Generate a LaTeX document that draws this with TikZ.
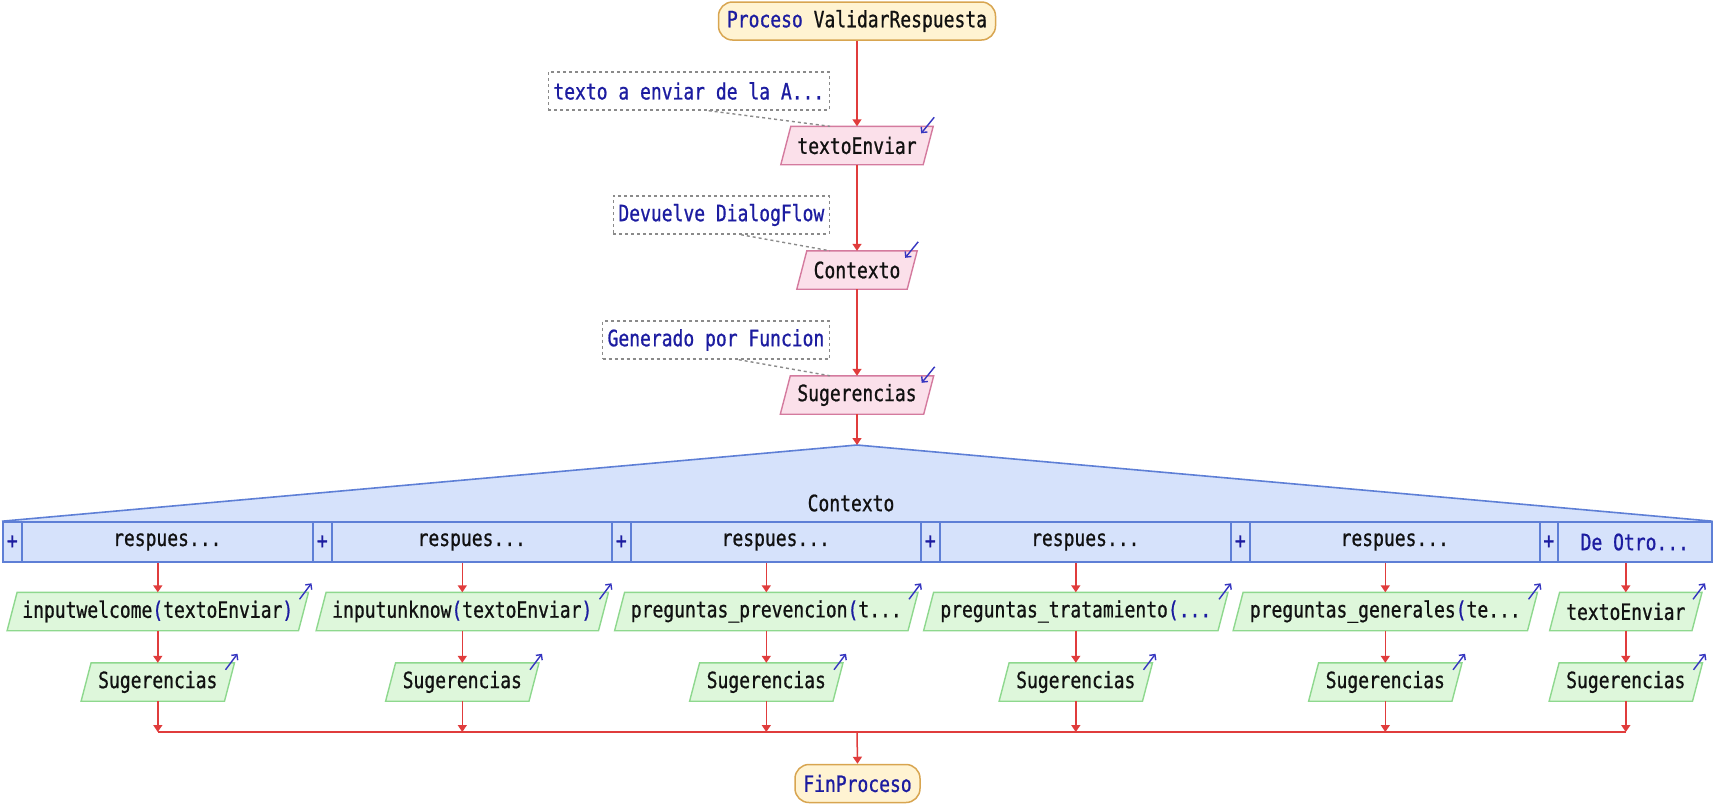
\documentclass[tikz,border=0pt]{standalone}
\usepackage{fontspec}
\newfontfamily\code[FakeStretch=0.8,FakeBold=0.8]{DejaVu Sans Mono}
\usetikzlibrary{calc,arrows.meta}
\pgfdeclarelayer{bg}
\pgfsetlayers{bg,main}
\definecolor{kw}{HTML}{1C1CA0}
\definecolor{txt}{HTML}{111111}
\definecolor{flow}{HTML}{E03C3C}
\definecolor{termfill}{HTML}{FFF3D2}
\definecolor{termdraw}{HTML}{D8A550}
\definecolor{infill}{HTML}{FBE0EA}
\definecolor{indraw}{HTML}{D47A9E}
\definecolor{outfill}{HTML}{DEF7DB}
\definecolor{outdraw}{HTML}{8ED88E}
\definecolor{casefill}{HTML}{D6E2FB}
\definecolor{casedraw}{HTML}{5E7FD6}
\definecolor{notedraw}{HTML}{8A8A8A}
\definecolor{cornerarrow}{HTML}{3535C0}

% parallelogram drawn behind a rectangular text node
\newcommand\iobox[3]{%
  \begin{pgfonlayer}{bg}
    \path[fill=#2, draw=#3, line width=1.4pt]
      ($(#1.south west)+(-5,0)$) -- ($(#1.north west)+(5,0)$) --
      ($(#1.north east)+(5,0)$) -- ($(#1.south east)+(-5,0)$) -- cycle;
  \end{pgfonlayer}}
% small marker arrows in the top right corner of an I/O box
\newcommand\readmark[1]{%
  \draw[cornerarrow, line width=1.4pt, -{Straight Barb[length=4pt,width=8pt]}]
    ($(#1.north east)+(5,0)+(1,9)$) -- ++(-13,-16);}
\newcommand\writemark[1]{%
  \draw[cornerarrow, line width=1.4pt, -{Straight Barb[length=4pt,width=8pt]}]
    ($(#1.north east)+(5,0)+(-9,-7)$) -- ++(12,16);}

\tikzset{
  x=1pt, y=1pt,
  every node/.style={font=\code\fontsize{22.5}{26}\selectfont, text=txt},
  terminal/.style={draw=termdraw, fill=termfill, line width=1.5pt,
    rounded corners=14pt, minimum height=38, inner xsep=8pt, inner ysep=0pt},
  note/.style={draw=notedraw, dash pattern=on 3pt off 3pt, line width=1.4pt,
    minimum height=38, inner xsep=5pt, inner ysep=0pt, text=kw, anchor=east},
  notelink/.style={draw=notedraw, dash pattern=on 3pt off 3pt, line width=1.4pt},
  iocore/.style={minimum height=38, inner sep=0pt},
  flowline/.style={draw=flow, line width=1.5pt},
  flowarrow/.style={flowline, -{Triangle[length=7pt,width=9pt]}},
  casecell/.style={draw=casedraw, fill=casefill, line width=1.6pt,
    minimum height=40, inner sep=0pt, anchor=west},
  plusbox/.style={casecell, text=kw},
}

\begin{document}
\begin{tikzpicture}
\useasboundingbox (0,0) rectangle (1713,-807);

% start of the procedure
\node[terminal, minimum width=277] (start) at (857,-21)
  {\textcolor{kw}{Proceso} ValidarRespuesta};

% sequential inputs with their comments
\node[iocore, minimum width=142] (te) at (857,-145.5) {textoEnviar};
\iobox{te}{infill}{indraw}\readmark{te}
\node[note] (n1) at (830,-91) {texto a enviar de la A...};

\node[iocore, minimum width=110] (ctx) at (857,-270) {Contexto};
\iobox{ctx}{infill}{indraw}\readmark{ctx}
\node[note] (n2) at (830,-215) {Devuelve DialogFlow};

\node[iocore, minimum width=143] (sug) at (857,-395) {Sugerencias};
\iobox{sug}{infill}{indraw}\readmark{sug}
\node[note] (n3) at (830,-340) {Generado por Funcion};

\draw[notelink] ($(n1.south west)!0.57!(n1.south east)$) -- (n1.south east |- te.north);
\draw[notelink] ($(n2.south west)!0.59!(n2.south east)$) -- (n2.south east |- ctx.north);
\draw[notelink] ($(n3.south west)!0.60!(n3.south east)$) -- (n3.south east |- sug.north);

% selection header
\coordinate (apex) at (857,-445);
\node[plusbox, minimum width=19] (p1) at (2,-542) {+};
\node[casecell, minimum width=291] (c1) at (21,-542) {respues...};
\node[plusbox, minimum width=19] (p2) at (312,-542) {+};
\node[casecell, minimum width=280] (c2) at (331,-542) {respues...};
\node[plusbox, minimum width=19] (p3) at (611,-542) {+};
\node[casecell, minimum width=290] (c3) at (630,-542) {respues...};
\node[plusbox, minimum width=19] (p4) at (920,-542) {+};
\node[casecell, minimum width=291] (c4) at (939,-542) {respues...};
\node[plusbox, minimum width=19] (p5) at (1230,-542) {+};
\node[casecell, minimum width=290] (c5) at (1249,-542) {respues...};
\node[plusbox, minimum width=18] (p6) at (1539,-542) {+};
\node[casecell, minimum width=154, text=kw] (c6) at (1557,-542) {De Otro...};

\begin{pgfonlayer}{bg}
  \fill[casefill] (p1.north west) -- (apex) -- (c6.north east) -- cycle;
  \draw[casedraw, line width=1.6pt] (p1.north west) -- (apex) -- (c6.north east);
\end{pgfonlayer}
\node (sel) at (851,-503) {Contexto};

\foreach \i in {1,...,6}
  \coordinate (k\i) at ($(p\i.south west)!0.5!(c\i.south east)$);

% branch bodies
\node[iocore, minimum width=291] (g1) at (k1 |- 0,-611.5)
  {inputwelcome\textcolor{kw}{(}textoEnviar\textcolor{kw}{)}};
\node[iocore, minimum width=282] (g2) at (k2 |- 0,-611.5)
  {inputunknow\textcolor{kw}{(}textoEnviar\textcolor{kw}{)}};
\node[iocore, minimum width=293] (g3) at (k3 |- 0,-611.5)
  {preguntas\_prevencion\textcolor{kw}{(}t...};
\node[iocore, minimum width=294] (g4) at (k4 |- 0,-611.5)
  {preguntas\_tratamiento\textcolor{kw}{(...}};
\node[iocore, minimum width=294] (g5) at (k5 |- 0,-611.5)
  {preguntas\_generales\textcolor{kw}{(}te...};
\node[iocore, minimum width=142] (g6) at (k6 |- 0,-611.5) {textoEnviar};

\foreach \i in {1,...,6}{
  \node[iocore, minimum width=143] (s\i) at (k\i |- 0,-682) {Sugerencias};
  \iobox{g\i}{outfill}{outdraw}\writemark{g\i}
  \iobox{s\i}{outfill}{outdraw}\writemark{s\i}
}

% end of the procedure
\node[terminal, minimum width=125, text=kw] (fin) at (857.5,-783.5) {FinProceso};
\coordinate (join) at (857,-732);

% control flow
\draw[flowarrow] (start) -- (te);
\draw[flowarrow] (te.south) -- (ctx.north);
\draw[flowarrow] (ctx.south) -- (sug.north);
\draw[flowarrow] (sug.south) -- (apex);
\foreach \i in {1,...,6}{
  \draw[flowarrow] (k\i) -- (g\i.north);
  \draw[flowarrow] (g\i.south) -- (s\i.north);
  \draw[flowarrow] (s\i.south) -- (s\i.south |- join);
}
\draw[flowline] (s1.south |- join) -- (s6.south |- join);
\draw[flowarrow] (join) -- (fin.north);
\end{tikzpicture}
\end{document}
